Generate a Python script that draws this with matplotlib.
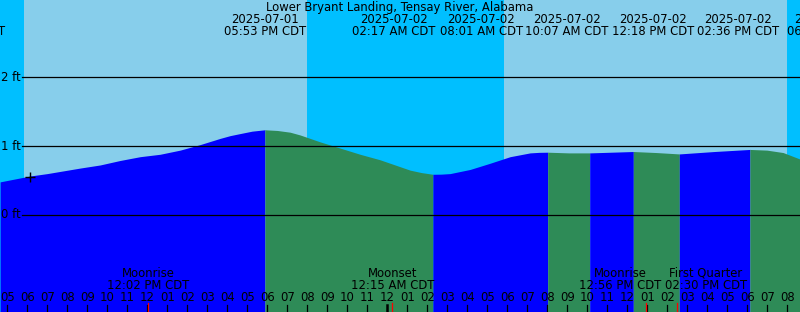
import matplotlib
matplotlib.use("Agg")
import matplotlib.pyplot as plt
import matplotlib.transforms as mtransforms

# times are hours after midnight 2025-07-01 (CDT), heights in ft
tide_t = [4.64, 6.14, 7.0, 8.64, 9.64, 10.64, 11.64, 12.64, 13.64, 14.64, 15.64,
          16.14, 16.64, 17.24, 17.88, 18.5, 19.14, 19.64, 20.64, 21.64, 22.64,
          23.64, 24.64, 25.14, 25.7, 26.28, 26.7, 27.14, 28.14, 29.14, 30.14,
          31.14, 31.6, 32.02, 33.08, 34.12, 35.2, 36.3, 37.45, 38.6, 40.35,
          42.13, 42.98, 43.79, 44.64]
tide_h = [0.48, 0.565, 0.60, 0.68, 0.725, 0.79, 0.845, 0.88, 0.94, 1.02, 1.11,
          1.15, 1.18, 1.215, 1.235, 1.225, 1.20, 1.16, 1.06, 0.97, 0.88,
          0.80, 0.70, 0.65, 0.615, 0.59, 0.592, 0.60, 0.66, 0.75, 0.845,
          0.90, 0.908, 0.91, 0.90, 0.90, 0.91, 0.92, 0.905, 0.885, 0.92,
          0.95, 0.94, 0.905, 0.81]
event_t = [17.88, 26.28, 32.02, 34.12, 36.3, 38.6, 42.13]

sunrise = [5.83, 29.83]
sunset = [19.98, 44.0]

now_t, now_h = 6.14, 0.55

grid_ft = [0, 1, 2]

top_dates = ["2025-07-01", "2025-07-01", "2025-07-02", "2025-07-02", "2025-07-02",
             "2025-07-02", "2025-07-02", "2025-07-02"]
top_times = ["05:02 AM CDT", "05:53 PM CDT", "02:17 AM CDT", "08:01 AM CDT",
             "10:07 AM CDT", "12:18 PM CDT", "02:36 PM CDT", "06:08 PM CDT"]
top_label_t = [2.83, 17.88, 24.31, 28.69, 32.99, 37.29, 41.54, 46.04]

moon_names = ["Moonrise", "Moonset", "Moonrise", "First Quarter"]
moon_times = ["12:02 PM CDT", "12:15 AM CDT", "12:56 PM CDT", "02:30 PM CDT"]
moon_event_t = [12.03, 24.25, 36.93, 38.5]
moon_label_t = [12.03, 24.25, 35.65, 39.93]

hour_t = list(range(5, 45))
hour_labels = ["05", "06", "07", "08", "09", "10", "11", "12", "01", "02",
               "03", "04", "05", "06", "07", "08", "09", "10", "11", "12",
               "01", "02", "03", "04", "05", "06", "07", "08", "09", "10",
               "11", "12", "01", "02", "03", "04", "05", "06", "07", "08"]

NIGHT, DAY = "#00BFFF", "#87CEEB"
RISE, FALL = "#0000FF", "#2E8B57"
FS = 8.4

fig = plt.figure(figsize=(8, 3.12), dpi=100)
ax = fig.add_axes([0, 0, 1, 1])
x0 = 5 - 7.3 / 20
ax.set_xlim(x0, x0 + 40)
ax.set_ylim(-97 / 69, 215 / 69)
ax.axis("off")

# day / night background
ax.axvspan(x0, sunrise[0], color=NIGHT, lw=0)
ax.axvspan(sunrise[0], sunset[0], color=DAY, lw=0)
ax.axvspan(sunset[0], sunrise[1], color=NIGHT, lw=0)
ax.axvspan(sunrise[1], sunset[1], color=DAY, lw=0)
ax.axvspan(sunset[1], x0 + 41, color=NIGHT, lw=0)

# tide fill, blue while rising and green while falling
bounds = [tide_t[0]] + event_t + [tide_t[-1]]
for a, b in zip(bounds[:-1], bounds[1:]):
    idx = [i for i, t in enumerate(tide_t) if a <= t <= b]
    ts = [tide_t[i] for i in idx]
    hs = [tide_h[i] for i in idx]
    col = RISE if hs[-1] > hs[0] else FALL
    ax.fill_between(ts, hs, -2, color=col, lw=0)

# grid lines with labels
for g in grid_ft:
    ax.plot([5.73, x0 + 40], [g, g], color="black", lw=0.9)
    ax.text(x0 + 20.5 / 20, g, f"{g} ft", ha="right", va="center", fontsize=FS)

ax.plot([now_t], [now_h], marker="+", color="black", ms=7, mew=1.0)

trans = mtransforms.blended_transform_factory(ax.transData, ax.transAxes)
fig.text(0.5, 1 - 7 / 312, "Lower Bryant Landing, Tensay River, Alabama",
         ha="center", va="center", fontsize=FS)
for d, tm, t in zip(top_dates, top_times, top_label_t):
    ax.text(t, 1 - 19.5 / 312, d, transform=trans, ha="center", va="center", fontsize=FS)
    ax.text(t, 1 - 31.5 / 312, tm, transform=trans, ha="center", va="center", fontsize=FS)

for n, tm, t in zip(moon_names, moon_times, moon_label_t):
    ax.text(t, 1 - 273.3 / 312, n, transform=trans, ha="center", va="center", fontsize=FS)
    ax.text(t, 1 - 285.3 / 312, tm, transform=trans, ha="center", va="center", fontsize=FS)

# hour ticks
for t, lab in zip(hour_t, hour_labels):
    ax.text(t, 1 - 297.3 / 312, lab, transform=trans, ha="center", va="center", fontsize=FS)
    w = 1.8 if t % 24 == 0 else 0.9
    ax.plot([t, t], [0, 7 / 312], transform=trans, color="black", lw=w)
for t in moon_event_t:
    ax.plot([t, t], [0, 9 / 312], transform=trans, color="red", lw=0.9)

fig.savefig("out.png", dpi=100)
